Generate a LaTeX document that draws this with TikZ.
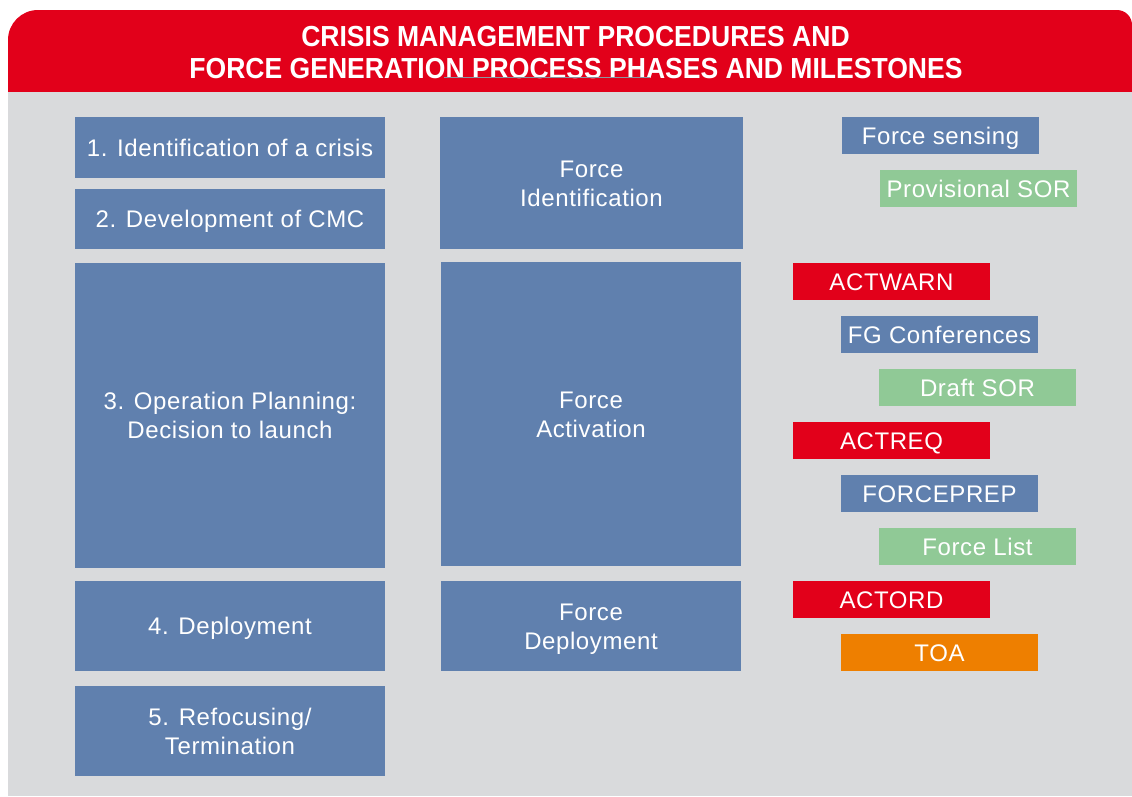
\documentclass[tikz,border=0pt]{standalone}
\usepackage{fontspec}
\setmainfont{Liberation Sans}
\definecolor{boxblue}{RGB}{96,128,174}
\definecolor{boxgreen}{RGB}{144,201,150}
\definecolor{boxred}{RGB}{226,0,26}
\definecolor{boxorange}{RGB}{238,127,0}
\definecolor{bggray}{RGB}{217,218,220}
\definecolor{squig}{RGB}{140,150,160}
\newcommand{\bodyfont}{\fontsize{24}{29}\selectfont\addfontfeature{LetterSpace=2.5}}
\newcommand{\titlefont}{\fontsize{29}{33}\selectfont\bfseries}
\begin{document}
\begin{tikzpicture}[x=1pt,y=-1pt,
  every node/.style={inner sep=0pt, outer sep=0pt},
  oneline/.style={text height=17.2pt, text depth=0pt},
  twoline/.style={text height=46.2pt, text depth=0pt},
  phase/.style={fill=boxblue, text=white, font=\bodyfont, align=center},
  milestone/.style={text=white, font=\bodyfont, minimum width=197, minimum height=37, oneline},
  bluebox/.style={milestone, fill=boxblue},
  greenbox/.style={milestone, fill=boxgreen},
  redbox/.style={milestone, fill=boxred},
  orangebox/.style={milestone, fill=boxorange},
  titletext/.style={text=white, font=\titlefont}
]
\useasboundingbox (0,0) rectangle (1132,796);
\fill[white] (0,0) rectangle (1132,796);
% header
\fill[boxred] (8,92) -- (8,40) arc[start angle=180, end angle=270, radius=30]
  -- (1117,10) arc[start angle=270, end angle=360, radius=15] -- (1132,92) -- cycle;
\fill[bggray] (8,92) rectangle (1132,796);
\node[titletext] (t1) at (575.5,37) {\scalebox{0.915}[1]{CRISIS MANAGEMENT PROCEDURES AND}};
\node[titletext] (t2) at (576,68.5) {\scalebox{0.915}[1]{FORCE GENERATION PROCESS PHASES AND MILESTONES}};
\draw[squig, line width=1.2] (444,77.5) -- (650,77.5);
% left column
\node[phase, oneline, minimum width=310, minimum height=61] (l1) at (230,147.5) {1. Identification of a crisis};
\node[phase, oneline, minimum width=310, minimum height=60] (l2) at (230,219) {2. Development of CMC};
\node[phase, twoline, minimum width=310, minimum height=305] (l3) at (230,415.5) {3. Operation Planning:\\Decision to launch};
\node[phase, oneline, minimum width=310, minimum height=90] (l4) at (230,626) {4. Deployment};
\node[phase, twoline, minimum width=310, minimum height=90] (l5) at (230,731) {5. Refocusing/\\Termination};
% middle column
\node[phase, twoline, minimum width=303, minimum height=132] (m1) at (591.5,183) {Force\\Identification};
\node[phase, twoline, minimum width=300, minimum height=304] (m2) at (591,414) {Force\\Activation};
\node[phase, twoline, minimum width=300, minimum height=90] (m3) at (591,626) {Force\\Deployment};
% right column
\node[bluebox] (r1) at (940.5,135.5) {Force sensing};
\node[greenbox] (r2) at (978.5,188.5) {Provisional SOR};
\node[redbox] (r3) at (891.5,281.5) {ACTWARN};
\node[bluebox] (r4) at (939.5,334.5) {FG Conferences};
\node[greenbox] (r5) at (977.5,387.5) {Draft SOR};
\node[redbox] (r6) at (891.5,440.5) {ACTREQ};
\node[bluebox] (r7) at (939.5,493.5) {FORCEPREP};
\node[greenbox] (r8) at (977.5,546.5) {Force List};
\node[redbox] (r9) at (891.5,599.5) {ACTORD};
\node[orangebox] (r10) at (939.5,652.5) {TOA};
\end{tikzpicture}
\end{document}
